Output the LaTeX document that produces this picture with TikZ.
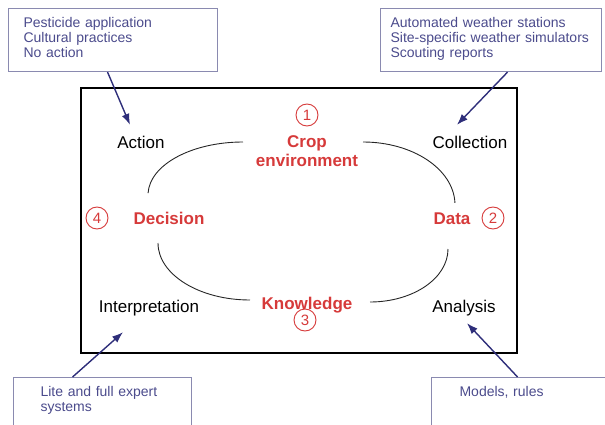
\documentclass[tikz,border=0pt]{standalone}
\usepackage{fontspec}
\setmainfont{Liberation Sans}
\usetikzlibrary{arrows.meta}
\definecolor{ipmred}{HTML}{D63A3A}
\definecolor{ipmblue}{HTML}{4B4B8C}
\definecolor{ipmframe}{HTML}{8A8AB0}
\definecolor{ipmarrow}{HTML}{2E2E7A}
\begin{document}
\begin{tikzpicture}[x=1pt,y=1pt]
    \tikzset{lbl/.style={inner sep=0pt, text height=12pt, text depth=0pt, font=\fontsize{17}{19}\selectfont},
        stage/.style={lbl, text=ipmred, font=\fontsize{17}{19}\selectfont\bfseries},
        num/.style={circle, draw=ipmred, text=ipmred, line width=0.9pt, minimum size=22pt, inner sep=0pt,
            font=\fontsize{15}{15}\selectfont},
        infobox/.style={draw=ipmframe, line width=1.1pt, anchor=north west, align=left, text=ipmblue,
            inner ysep=4pt, text height=15pt, text depth=40pt, font=\fontsize{14}{15}\selectfont},
        arr/.style={-{Latex[length=11pt,width=8pt]}, draw=ipmarrow, line width=1.4pt},
        loop/.style={draw=black!85, line width=0.9pt}}
    \useasboundingbox (0,0) rectangle (605,424);

    %Rahmen
    \draw[line width=2.6pt] (81,71) rectangle (517,336);

    %Stufen
    \node[stage, align=center, text height=, text depth=] (crop) at (307,272.5) {Crop\\[0pt]environment};
    \node[stage] (dec)  at (169,206) {Decision};
    \node[stage] (data) at (452,206) {Data};
    \node[stage] (know) at (307,121) {Knowledge};
    \node[num] (n1) at (307,309) {1};
    \node[num] (n2) at (493,206) {2};
    \node[num] (n3) at (305,104) {3};
    \node[num] (n4) at (97,206)  {4};

    %Taetigkeiten
    \node[lbl] (action)  at (141,282) {Action};
    \node[lbl] (collect) at (470,282) {Collection};
    \node[lbl] (interp)  at (149,118) {Interpretation};
    \node[lbl] (analys)  at (464,118) {Analysis};

    %Kreislauf
    \draw[loop] (243,282) arc[start angle=90, end angle=178, x radius=95, y radius=53];
    \draw[loop] (363,282) arc[start angle=90, end angle=2, x radius=92, y radius=63];
    \draw[loop] (158,181) arc[start angle=180, end angle=270, x radius=92, y radius=57];
    \draw[loop] (448,175) arc[start angle=0, end angle=-90, x radius=78, y radius=53];

    %Kaesten
    \node[infobox, text width=179pt, inner xsep=15pt, minimum width=209pt] (actbox) at (8,416)
        {Pesticide application\\Cultural practices\\No action};
    \node[infobox, text width=201pt, inner xsep=10pt, minimum width=221pt] (colbox) at (380,416)
        {Automated weather stations\\Site-specific weather simulators\\Scouting reports};
    \node[infobox, text width=124pt, inner xsep=27pt, minimum width=178pt] (intbox) at (13,47)
        {Lite and full expert\\systems};
    \node[infobox, text width=123pt, inner xsep=28pt, minimum width=179pt] (anabox) at (431,47)
        {Models, rules};

    %Pfeile
    \draw[arr] ([xshift=-5.5pt]actbox.south) -- ([xshift=-11pt,yshift=11pt]action.north);
    \draw[arr] ([xshift=16.5pt]colbox.south) -- ([xshift=-13pt,yshift=11pt]collect.north);
    \draw[arr] ([xshift=-30pt]intbox.north) -- ([xshift=-26pt,yshift=-20pt]interp.south);
    \draw[arr] ([xshift=-3.5pt]anabox.north) -- ([xshift=3pt,yshift=-11pt]analys.south);
\end{tikzpicture}
\end{document}
